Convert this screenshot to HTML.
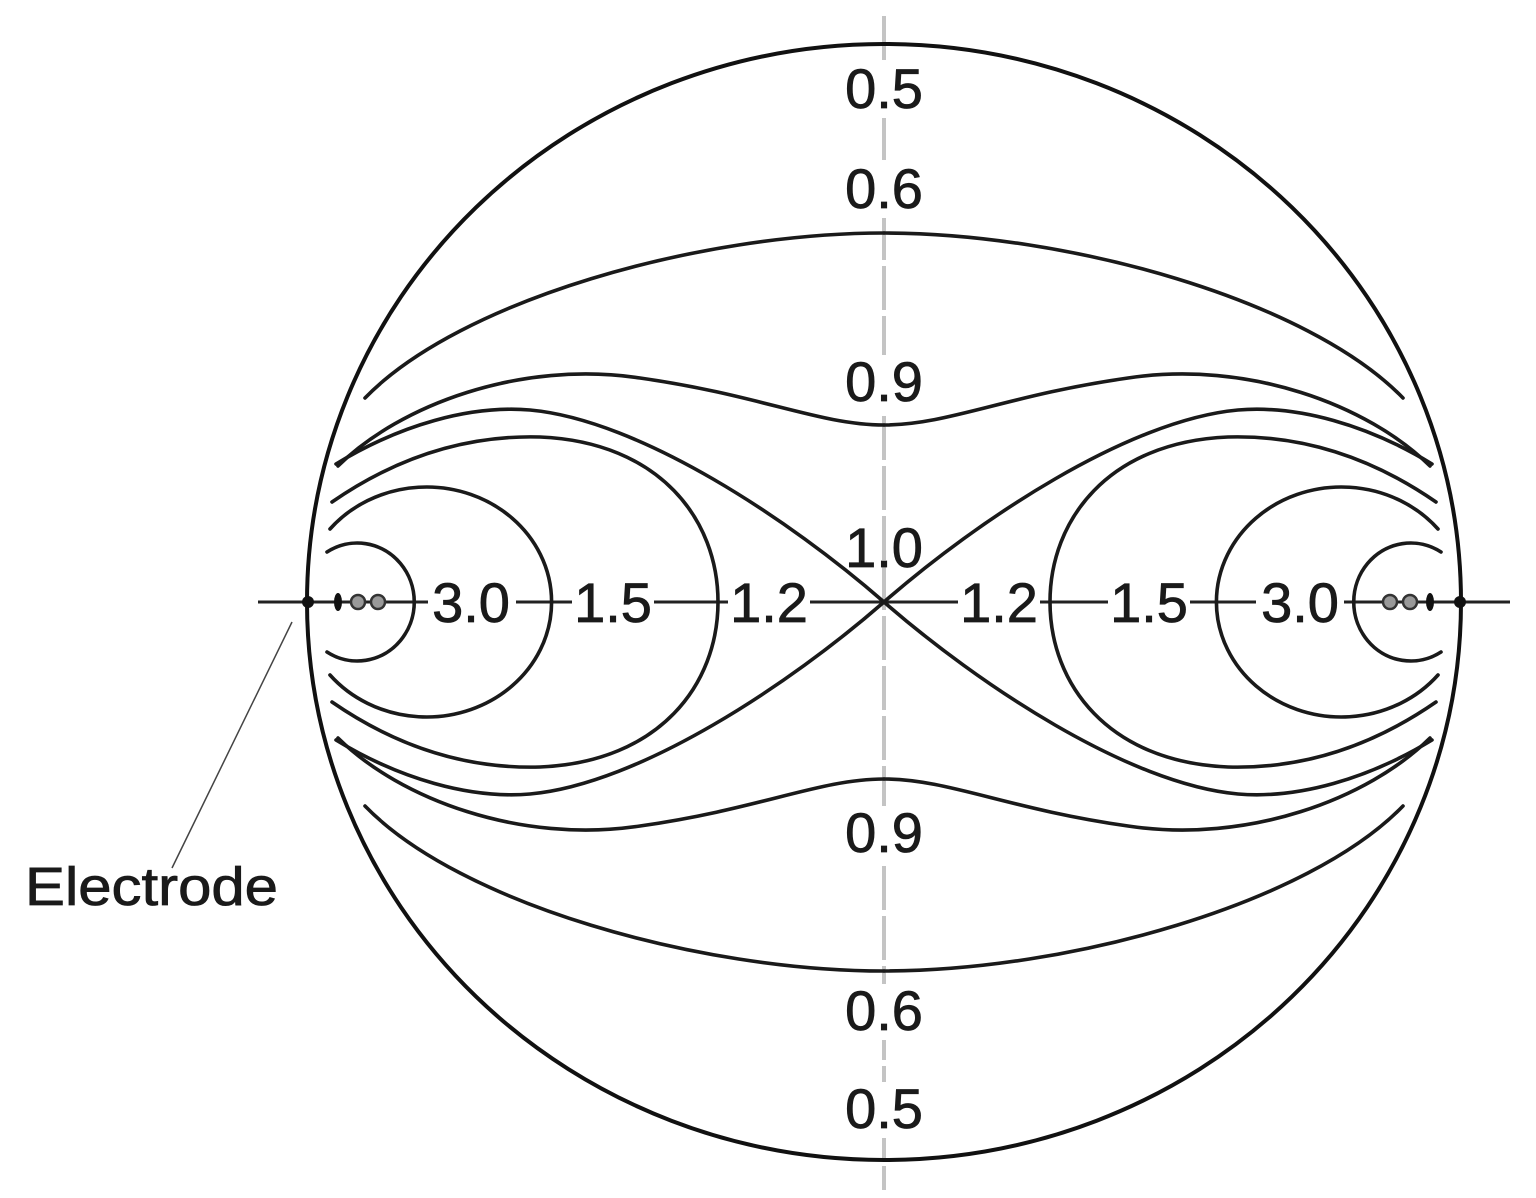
<!DOCTYPE html>
<html><head><meta charset="utf-8"><style>
html,body{margin:0;padding:0;background:#fff;}
svg{display:block;}
text{font-family:"Liberation Sans",sans-serif;font-size:56px;fill:#1a1a1a;stroke:#1a1a1a;stroke-width:0.8;}
</style></head><body>
<svg width="1536" height="1198" viewBox="0 0 1536 1198" xmlns="http://www.w3.org/2000/svg">
<rect width="1536" height="1198" fill="#fff"/>
<line x1="884" y1="16" x2="884" y2="1190" stroke="#c4c4c4" stroke-width="4" stroke-dasharray="44 6"/>
<g fill="#fff">
<rect x="840" y="62" width="88" height="56"/>
<rect x="840" y="162" width="88" height="56"/>
<rect x="840" y="355" width="88" height="56"/>
<rect x="840" y="806" width="88" height="56"/>
<rect x="840" y="984" width="88" height="56"/>
<rect x="840" y="1082" width="88" height="56"/>
</g>
<line x1="258" y1="602" x2="1510" y2="602" stroke="#222" stroke-width="3"/>
<g fill="#fff">
<rect x="428" y="585" width="88" height="34"/>
<rect x="572" y="585" width="82" height="34"/>
<rect x="728" y="585" width="82" height="34"/>
<rect x="958" y="585" width="82" height="34"/>
<rect x="1108" y="585" width="82" height="34"/>
<rect x="1256" y="585" width="88" height="34"/>
</g>
<ellipse cx="884" cy="602" rx="577" ry="558" fill="none" stroke="#111" stroke-width="4"/>
<g id="half" fill="none" stroke="#1a1a1a" stroke-width="3.6" stroke-linecap="round">
<path d="M327 552 A57 59 0 1 1 327 652"/>
<path d="M330 529 A125 115 0 1 1 330 675"/>
<path d="M332 502 C400 455,470 435,540 437 C660 442,718 520,718 602 C718 684,660 762,540 767 C470 769,400 749,332 702"/>
<path d="M338 466 C400 405,520 360,640 378 C760 395,820 425,884 425"/>
<path d="M338 738 C400 799,520 844,640 826 C760 809,820 779,884 779"/>
<path d="M365 398 C460 300,700 233,884 233"/>
<path d="M365 806 C460 904,700 971,884 971"/>
<circle cx="308" cy="602" r="6" fill="#111" stroke="none"/>
<ellipse cx="338" cy="602" rx="4" ry="9" fill="#111" stroke="none"/>
<circle cx="358" cy="602" r="7" fill="#999" stroke="#333" stroke-width="2.5"/>
<circle cx="378" cy="602" r="7" fill="#999" stroke="#333" stroke-width="2.5"/>
</g>
<use href="#half" transform="translate(1768,0) scale(-1,1)"/>
<g fill="none" stroke="#1a1a1a" stroke-width="3.6" stroke-linecap="round">
<path d="M336 464 C400 425,470 405,530 410 C640 420,790 520,884 602 C978 684,1128 784,1238 794 C1298 799,1368 779,1432 740"/>
<path d="M336 740 C400 779,470 799,530 794 C640 784,790 684,884 602 C978 520,1128 420,1238 410 C1298 405,1368 425,1432 464"/>
</g>
<g text-anchor="middle">
<text x="884" y="108">0.5</text>
<text x="884" y="208">0.6</text>
<text x="884" y="401">0.9</text>
<text x="884" y="567">1.0</text>
<text x="884" y="852">0.9</text>
<text x="884" y="1030">0.6</text>
<text x="884" y="1128">0.5</text>
<text x="471" y="622">3.0</text>
<text x="613" y="622">1.5</text>
<text x="769" y="622">1.2</text>
<text x="999" y="622">1.2</text>
<text x="1149" y="622">1.5</text>
<text x="1300" y="622">3.0</text>
</g>
<line x1="292" y1="622" x2="172" y2="868" stroke="#444" stroke-width="1.5"/>
<text x="25" y="905" textLength="253" lengthAdjust="spacingAndGlyphs" style="font-size:54px">Electrode</text>
</svg>
</body></html>
